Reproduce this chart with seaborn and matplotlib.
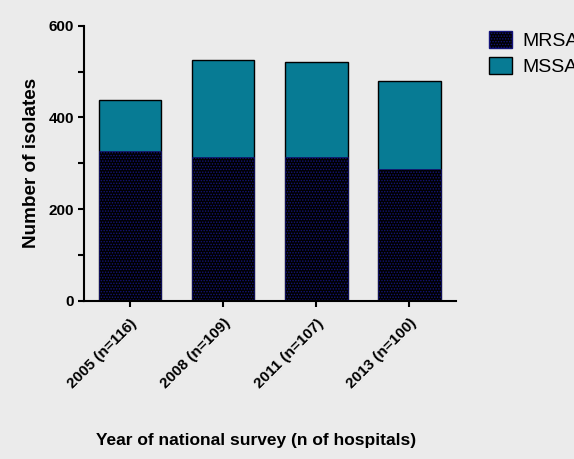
import matplotlib
matplotlib.use("Agg")
import matplotlib.pyplot as plt
from matplotlib.patches import Patch
from matplotlib.ticker import MultipleLocator
import seaborn as sns
import pandas as pd

# Survey years and isolate counts
categories = ["2005 (n=116)", "2008 (n=109)", "2011 (n=107)", "2013 (n=100)"]
mrsa = [327, 314, 314, 288]
mssa = [112, 212, 207, 192]
totals = [a + b for a, b in zip(mrsa, mssa)]

teal = "#077B94"
navy = "#14147A"
bg = "#EBEBEB"

sns.set_theme(style="white")
plt.rcParams["font.family"] = ["Liberation Sans", "DejaVu Sans"]
plt.rcParams["text.color"] = "black"
plt.rcParams["axes.labelcolor"] = "black"
plt.rcParams["xtick.color"] = "black"
plt.rcParams["ytick.color"] = "black"
plt.rcParams["hatch.linewidth"] = 0.7

df = pd.DataFrame({"year": categories, "MRSA": mrsa, "total": totals})

fig = plt.figure(figsize=(5.74, 4.59), dpi=100, facecolor=bg)
ax = fig.add_axes([83.5 / 574, 1 - 301 / 459, (456 - 83.5) / 574, (301 - 25.7) / 459])
ax.set_facecolor(bg)

# Stacked bars: total (MSSA on top) then MRSA drawn over it
sns.barplot(data=df, x="year", y="total", color=teal, width=0.67,
            edgecolor="black", linewidth=1.0, saturation=1, ax=ax)
n_first = len(ax.patches)
sns.barplot(data=df, x="year", y="MRSA", color="black", width=0.67,
            edgecolor=navy, linewidth=0.5, saturation=1, ax=ax)
for p in ax.patches[n_first:]:
    p.set_hatch("......")
    p.set_edgecolor(navy)

ax.set_xlim(-0.5, 3.5)
ax.set_ylim(0, 600)
ax.yaxis.set_major_locator(MultipleLocator(200))
ax.yaxis.set_minor_locator(MultipleLocator(100))

for s in ["top", "right"]:
    ax.spines[s].set_visible(False)
for s in ["left", "bottom"]:
    ax.spines[s].set_color("black")
    ax.spines[s].set_linewidth(1.5)

ax.tick_params(axis="both", which="major", direction="out", length=4, width=1.5,
               color="black", bottom=True, left=True, labelsize=11, pad=3)
ax.tick_params(axis="x", which="major", pad=7)
ax.tick_params(axis="y", which="minor", direction="out", length=4, width=1.5,
               color="black", left=True)
for lbl in ax.get_yticklabels():
    lbl.set_fontweight("bold")
ax.set_xticks(range(len(categories)))
ax.set_xticklabels(categories, rotation=45, ha="right", rotation_mode="anchor",
                   fontweight="bold", fontsize=11)

ax.set_xlabel("")
ax.set_ylabel("Number of isolates", fontweight="bold", fontsize=13.6, labelpad=6)
fig.text(256.5 / 574, 1 - 441 / 459, "Year of national survey (n of hospitals)",
         ha="center", va="center", fontweight="bold", fontsize=12.5)

handles = [Patch(facecolor="black", edgecolor=navy, hatch="......", label="MRSA"),
           Patch(facecolor=teal, edgecolor="black", label="MSSA")]
fig.legend(handles=handles, loc="upper left", bbox_to_anchor=(473 / 574, 1 - 15 / 459),
           frameon=False, handlelength=1.2, handleheight=1.0,
           handletextpad=0.55, labelspacing=0.35, borderpad=0.3,
           prop={"family": ["Liberation Sans", "DejaVu Sans"], "size": 14})

fig.savefig("out.png", dpi=100, facecolor=bg)
